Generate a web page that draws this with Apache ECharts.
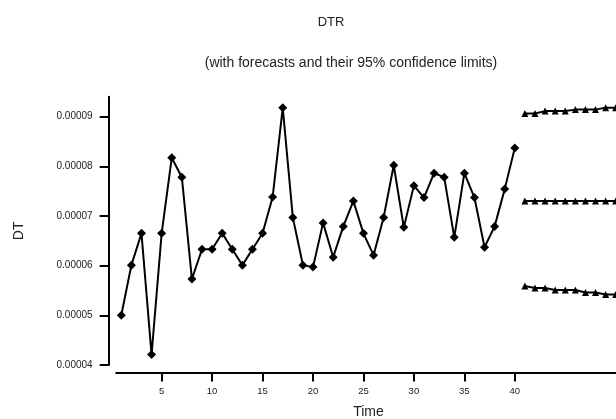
<!DOCTYPE html>
<html>
<head>
<meta charset="utf-8">
<script src="https://cdn.jsdelivr.net/npm/echarts@6/dist/echarts.min.js"></script>
<style>html,body{margin:0;padding:0;background:#fff;}#c{width:616px;height:419px;}</style>
</head>
<body>
<div id="c"></div>
<script>
const times = [1,2,3,4,5,6,7,8,9,10,11,12,13,14,15,16,17,18,19,20,21,22,23,24,25,26,27,28,29,30,31,32,33,34,35,36,37,38,39,40];
const actual = [0.0000500,0.0000601,0.0000665,0.0000421,0.0000665,0.0000817,0.0000778,0.0000573,0.0000633,0.0000633,
  0.0000665,0.0000633,0.0000601,0.0000633,0.0000665,0.0000738,0.0000918,0.0000697,0.0000601,0.0000597,
  0.0000686,0.0000617,0.0000679,0.0000730,0.0000665,0.0000621,0.0000697,0.0000802,0.0000677,0.0000761,
  0.0000737,0.0000786,0.0000778,0.0000657,0.0000786,0.0000737,0.0000637,0.0000679,0.0000754,0.0000837];
const forecastTimes = [41,42,43,44,45,46,47,48,49,50];
const upper = [0.0000906,0.0000906,0.0000911,0.0000911,0.0000911,0.0000914,0.0000914,0.0000914,0.0000918,0.0000918];
const forecast = [0.0000730,0.0000730,0.0000730,0.0000730,0.0000730,0.0000730,0.0000730,0.0000730,0.0000730,0.0000730];
const lower = [0.0000559,0.0000555,0.0000555,0.0000551,0.0000551,0.0000551,0.0000546,0.0000546,0.0000542,0.0000542];
const xTicks = [5,10,15,20,25,30,35,40];
const yTicks = [0.00004,0.00005,0.00006,0.00007,0.00008,0.00009];

const pair = (xs, ys) => xs.map((x, i) => [x, ys[i]]);
const font = 'Liberation Sans, Arial, sans-serif';
const chart = echarts.init(document.getElementById('c'), null, {renderer: 'canvas'});
const lineStyle = {color: '#000', width: 2};
const mk = (data, symbol, size) => ({
  type: 'line', data, symbol, symbolSize: size, showSymbol: true,
  lineStyle, itemStyle: {color: '#000'}, animation: false, silent: true
});
chart.setOption({
  backgroundColor: '#fff',
  animation: false,
  title: [
    {text: 'DTR', left: 326, top: 11, textAlign: 'center',
     textStyle: {fontFamily: font, fontSize: 13, fontWeight: 'normal', color: '#222'}},
    {text: '(with forecasts and their 95% confidence limits)', left: 346, top: 51, textAlign: 'center',
     textStyle: {fontFamily: font, fontSize: 14, fontWeight: 'normal', color: '#222'}}
  ],
  grid: {left: 116.25, right: -4.75, top: 96.7, bottom: 54, outerBoundsMode: 'none', containLabel: false},
  xAxis: {
    type: 'value', min: 0.5, max: 50.5, offset: 7.6,
    name: 'Time', nameLocation: 'middle', nameGap: 33,
    nameTextStyle: {fontFamily: font, fontSize: 14, color: '#222'},
    axisLine: {show: true, lineStyle: {color: '#000', width: 2}},
    axisTick: {show: true, customValues: xTicks, length: 9, inside: false, lineStyle: {color: '#000', width: 2}},
    axisLabel: {customValues: xTicks, fontFamily: font, fontSize: 9.5, color: '#222', margin: 14},
    splitLine: {show: false}
  },
  yAxis: {
    type: 'value', min: 0.00004, max: 0.000094, offset: 7.6,
    name: 'DT', nameLocation: 'middle', nameGap: 83, nameRotate: 90,
    nameTextStyle: {fontFamily: font, fontSize: 14, color: '#222'},
    axisLine: {show: true, lineStyle: {color: '#000', width: 2}},
    axisTick: {show: true, customValues: yTicks, length: 9, lineStyle: {color: '#000', width: 2}},
    axisLabel: {customValues: yTicks, fontFamily: font, fontSize: 10, color: '#222', margin: 16,
      formatter: v => v.toFixed(5)},
    splitLine: {show: false}
  },
  series: [
    mk(pair(times, actual), 'diamond', 9),
    mk(pair(forecastTimes, upper), 'triangle', 7),
    mk(pair(forecastTimes, forecast), 'triangle', 7),
    mk(pair(forecastTimes, lower), 'triangle', 7)
  ]
});
</script>
</body>
</html>
